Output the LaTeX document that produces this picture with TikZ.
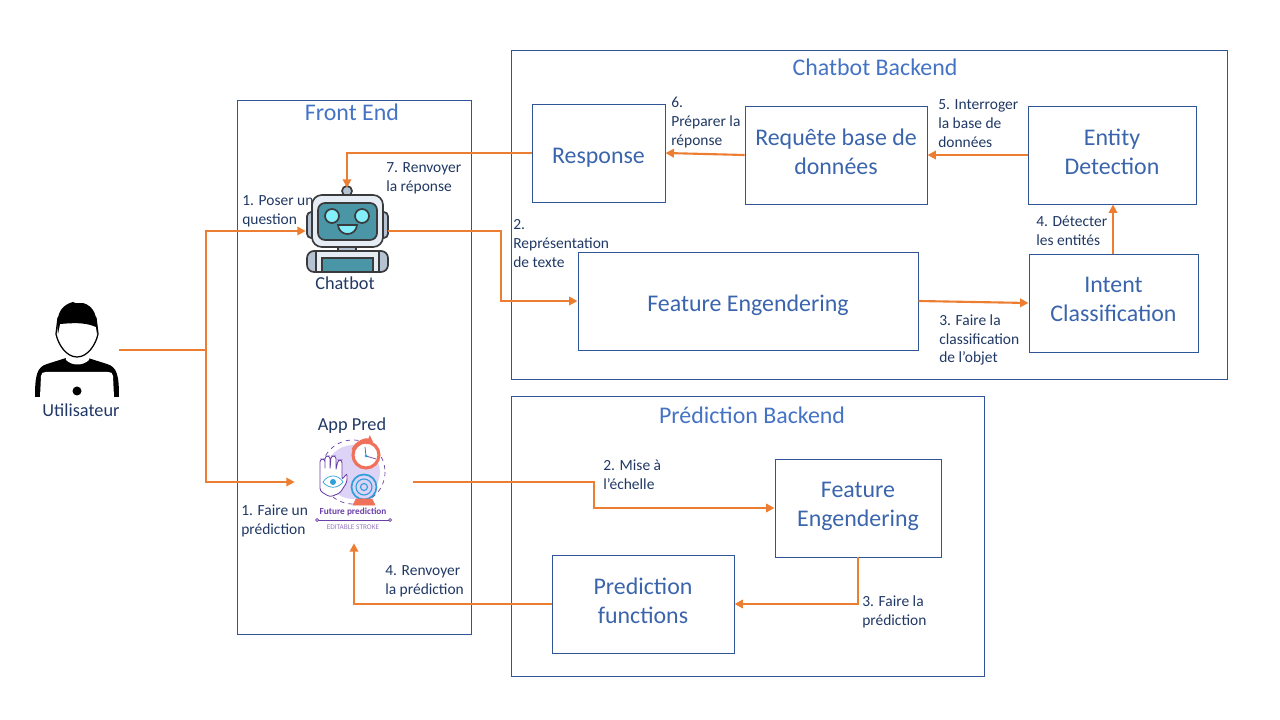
\documentclass[tikz,border=0pt]{standalone}
\usepackage{fontspec}
\setmainfont{Carlito}
\usetikzlibrary{arrows.meta}
\def\px{0.025cm}
\definecolor{linkorange}{HTML}{ED7D31}
\definecolor{frameblue}{HTML}{2F5597}
\definecolor{titleblue}{HTML}{4472C4}
\definecolor{noteblue}{HTML}{203864}
\definecolor{boxtext}{HTML}{3A64AC}
\definecolor{robotteal}{HTML}{4A96A6}
\definecolor{robotgrey}{HTML}{B4C2D2}
\definecolor{robotline}{HTML}{3A3A3C}
\definecolor{robotpale}{HTML}{E6ECF4}
\definecolor{robotcyan}{HTML}{85EEFB}
\definecolor{predviolet}{HTML}{6B3FA8}
\definecolor{predlilac}{HTML}{DDD3F7}
\definecolor{predcoral}{HTML}{F0705A}
\definecolor{predblue}{HTML}{2E9FD8}
\tikzset{
  frame/.style={draw=frameblue,line width=0.7pt,inner sep=0pt},
  box/.style={frame,text=boxtext,align=center,font=\fontsize{17}{20.6}\selectfont,
    execute at begin node={\rule{0pt}{20.5pt}},execute at end node={\rule[-5pt]{0pt}{5pt}}},
  title/.style={text=titleblue,font=\fontsize{17}{20}\selectfont,inner sep=0pt},
  note/.style={text=noteblue,align=left,anchor=north west,inner sep=0pt,font=\fontsize{11}{13.5}\selectfont},
  caption/.style={text=noteblue,inner sep=0pt,font=\fontsize{13}{15}\selectfont},
  icon/.style={inner sep=0pt},
  link/.style={draw=linkorange,line width=1.5pt,-{Triangle[length=6pt,width=6pt]}},
  plainlink/.style={draw=linkorange,line width=1.5pt}
}
\begin{document}
\begin{tikzpicture}[x=0.025cm,y=-0.025cm]
    \useasboundingbox (0,0) rectangle (1280,720);

    \draw (354,367) node[frame,minimum width=234*\px,minimum height=534*\px] (front) {};
    \draw (869,214.5) node[frame,minimum width=716*\px,minimum height=329*\px] (chatback) {};
    \draw (747.5,536) node[frame,minimum width=473*\px,minimum height=280*\px] (predback) {};
    \draw (352,112) node[title] (fronttitle) {Front End};
    \draw (875,67) node[title] (chattitle) {Chatbot Backend};
    \draw (752,415) node[title] (predtitle) {Prédiction Backend};

    \draw (598.5,153) node[box,minimum width=133*\px,minimum height=98*\px] (resp) {Response};
    \draw (836,155) node[box,minimum width=182*\px,minimum height=98*\px] (req) {Requête base de\\données};
    \draw (1112,155) node[box,minimum width=168*\px,minimum height=98*\px] (entity) {Entity\\Detection};
    \draw (748,301) node[box,minimum width=340*\px,minimum height=98*\px] (feata) {Feature Engendering};
    \draw (1113.5,303) node[box,minimum width=169*\px,minimum height=98*\px] (intent) {Intent\\Classification};
    \draw (858,508) node[box,minimum width=166*\px,minimum height=98*\px] (featb) {Feature\\Engendering};
    \draw (643,604) node[box,minimum width=182*\px,minimum height=98*\px] (predfun) {Prediction\\functions};

    \draw (242,195) node[note] (noteask) {1. Poser un\\question};
    \draw (386,162) node[note] (notesend) {7. Renvoyer\\la réponse};
    \draw (513,219) node[note] (notetext) {2.\\Représentation\\de texte};
    \draw (671,97) node[note] (noteprep) {6.\\Préparer la\\réponse};
    \draw (938,99) node[note] (notequery) {5. Interroger\\la base de\\données};
    \draw (1036,216) node[note] (notedetect) {4. Détecter\\les entités};
    \draw (939,314) node[note] (noteclass) {3. Faire la\\classification\\de l’objet};
    \draw (603,460) node[note] (notescale) {2. Mise à\\l’échelle};
    \draw (862,595) node[note] (notepred) {3. Faire la\\prédiction};
    \draw (385,565) node[note] (noteback) {4. Renvoyer\\la prédiction};
    \draw (241,505) node[note] (notemake) {1. Faire un\\prédiction};

    \draw (77,350) node[icon,minimum width=84*\px,minimum height=96*\px] (user) {};
    \draw (347,231) node[icon,minimum width=82*\px,minimum height=86*\px] (robot) {};
    \draw (354,482) node[icon,minimum width=118*\px,minimum height=122*\px] (pred) {};
    \draw (81,410) node[caption] (usercap) {Utilisateur};
    \draw (345,283) node[caption] (robotcap) {Chatbot};
    \draw (352,426) node[caption] (predcap) {App Pred};

    % user
    \fill (35,397) .. controls (35,375) and (37,367) .. (47,364) -- (66,358) -- (88,358) -- (107,364) .. controls (117,367) and (119,375) .. (119,397) -- cycle;
    \fill[white] (40,397) -- (41,376) .. controls (41,373) and (43,372) .. (46,372) -- (108,372) .. controls (111,372) and (113,373) .. (113,376) -- (114,397) -- cycle;
    \fill[white] (65,352) -- (66,360) .. controls (72,366) and (83,366) .. (89,360) -- (90,352) -- cycle;
    \fill (77,391) circle (4.5);
    \draw[fill=white,line width=0.9pt] (56,334) .. controls (58,344) and (66,357) .. (77,357) .. controls (88,357) and (96,344) .. (98,334) -- (96,318) -- (58,318) -- cycle;
    \fill (58,334) .. controls (56,318) and (58,306) .. (73,302) .. controls (76,304) and (80,303) .. (83,303) .. controls (94,306) and (98,316) .. (97,334) -- (96,327) .. controls (85,322) and (72,323) .. (60,324) -- cycle;

    % chatbot
    \begin{scope}[line width=1.2pt,draw=robotline]
    \draw[fill=robotgrey] (347,191) circle (5);
    \draw[fill=robotgrey,rounded corners=3pt] (307,212) rectangle (316,238);
    \draw[fill=robotgrey,rounded corners=3pt] (379,212) rectangle (388,238);
    \draw[fill=robotgrey] (338,245) rectangle (356,252);
    \draw[fill=robotgrey,rounded corners=5pt] (307,272) -- (307,251) -- (388,251) -- (388,272) -- cycle;
    \draw[fill=robotpale] (316,272) -- (316,251) -- (379,251) -- (379,272) -- cycle;
    \draw[fill=robotteal] (322,272) rectangle (373,258);
    \draw[fill=robotpale,rounded corners=7pt] (312,195) rectangle (383,247);
    \draw[fill=robotteal,rounded corners=5pt] (318,203) rectangle (377,240);
    \draw[fill=robotcyan] (332,216) circle (7);
    \draw[fill=robotcyan] (362,216) circle (7);
    \draw[fill=robotcyan] (338,225) -- (357,225) .. controls (356,237) and (339,237) .. (338,225) -- cycle;
    \end{scope}

    % future prediction
    \fill[predlilac] (353,472) circle (27);
    \draw[predviolet,dashed,line width=0.5pt] (353,472) circle (32);
    \draw[predcoral,fill=white,line width=2.2pt] (366,455) circle (13);
    \draw[predcoral,line width=2.2pt,-{Triangle[length=4pt,width=7pt]}] (353,450) .. controls (356,442) and (366,439) .. (373,442);
    \draw[predviolet,line width=0.5pt] (376,459) -- (366,456) -- (365,447);
    \fill[predblue] (366,456) circle (1.5);
    \draw[predblue,fill=predlilac,line width=1.2pt] (364,487) circle (12.5);
    \draw[predblue,line width=0.8pt] (364,487) circle (8);
    \draw[predblue,line width=0.8pt] (364,487) circle (3.5);
    \draw[predcoral,fill=predcoral] (353,505) -- (356,499) -- (372,499) -- (375,505) -- cycle;
    \draw[predviolet,fill=white,line width=0.6pt,rounded corners=2pt] (320,491) -- (320,476) -- (320,459) -- (325,459) -- (325,470) -- (325,456) -- (330,456) -- (330,470) -- (331,456) -- (336,456) -- (336,470) -- (338,460) -- (342,460) -- (342,480) -- (347,473) -- (347,482) -- (340,493) -- (330,497) -- cycle;
    \draw[predblue,fill=white,line width=0.5pt] (323,482) .. controls (328,474) and (338,474) .. (343,482) .. controls (338,489) and (328,489) .. (323,482) -- cycle;
    \fill[predblue] (333,482) circle (3);
    \draw[predviolet,line width=0.5pt] (317,520) -- (390,520);
    \draw[predviolet,fill=white,line width=0.5pt] (317,520) circle (1.5);
    \draw[predviolet,fill=white,line width=0.5pt] (390,520) circle (1.5);
    \draw (353,512) node[inner sep=0pt,text=predviolet,font=\fontsize{6.6}{8}\selectfont\bfseries] (predname) {Future prediction};
    \draw (353,527) node[inner sep=0pt,text=predviolet!70,font=\fontsize{5.2}{6}\selectfont] (predsub) {EDITABLE STROKE};

    \coordinate (split) at (206,350);
    \coordinate (benda) at (501,266);
    \coordinate (bendb) at (594,495);
    \draw[plainlink] (user.east) -- (split);
    \draw[link] (split) |- (robot.west);
    \draw[link] (split) |- (pred.west);
    \draw[link] (robot.east) -| (benda) |- (feata.west);
    \draw[link] (feata.east) -- (intent.west);
    \draw[link] (intent.north -| 1113,0) -- (entity.south -| 1113,0);
    \draw[link] (entity.west) -- (req.east);
    \draw[link] (req.west) -- (resp.east);
    \draw[link] (resp.west) -| (robot.north);
    \draw[link] (pred.east) -| (bendb) |- (featb.west);
    \draw[link] (featb.south) |- (predfun.east);
    \draw[link] (predfun.west) -| (pred.south);
\end{tikzpicture}
\end{document}
